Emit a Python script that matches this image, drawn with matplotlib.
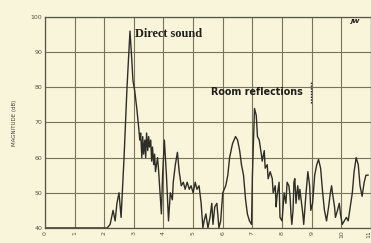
import matplotlib.pyplot as plt

# time axis (ms) and magnitude (dB)
time_ms = [0.00, 2.10, 2.20, 2.30, 2.37, 2.43, 2.50, 2.57, 2.67, 2.77, 2.87, 2.93,
           2.97, 3.03, 3.10, 3.17, 3.20, 3.23, 3.27, 3.30, 3.33, 3.37, 3.40, 3.43,
           3.47, 3.50, 3.53, 3.57, 3.60, 3.63, 3.67, 3.70, 3.73, 3.80, 3.83, 3.90,
           3.93, 3.97, 4.03, 4.10, 4.17, 4.20, 4.23, 4.30, 4.33, 4.40, 4.47, 4.53,
           4.60, 4.67, 4.73, 4.80, 4.87, 4.93, 5.00, 5.07, 5.13, 5.20, 5.27, 5.33,
           5.37, 5.43, 5.50, 5.57, 5.63, 5.67, 5.73, 5.80, 5.87, 5.93, 6.00, 6.10,
           6.17, 6.23, 6.33, 6.43, 6.50, 6.57, 6.63, 6.70, 6.77, 6.83, 6.90, 6.97,
           7.00, 7.07, 7.13, 7.17, 7.23, 7.30, 7.33, 7.40, 7.43, 7.50, 7.53, 7.60,
           7.67, 7.70, 7.77, 7.80, 7.83, 7.90, 7.93, 8.00, 8.07, 8.13, 8.17, 8.23,
           8.27, 8.30, 8.33, 8.37, 8.40, 8.43, 8.47, 8.50, 8.53, 8.57, 8.60, 8.67,
           8.70, 8.73, 8.80, 8.87, 8.93, 8.97, 9.03, 9.10, 9.17, 9.23, 9.30, 9.37,
           9.43, 9.50, 9.57, 9.63, 9.67, 9.70, 9.77, 9.80, 9.87, 9.93, 9.97, 10.03,
           10.10, 10.17, 10.23, 10.30, 10.37, 10.43, 10.50, 10.57, 10.63, 10.70,
           10.77, 10.83, 10.90]
magnitude_db = [40, 40, 41, 45, 42, 47, 50, 43, 60, 80, 96, 88,
                82, 79, 74, 68, 65, 67, 60, 66, 61, 65, 60, 67,
                62, 66, 63, 65, 59, 63, 58, 61, 56, 60, 57, 48,
                44, 55, 65, 55, 42, 46, 50, 48, 53, 58, 61.5, 56,
                52, 53, 51, 53, 51, 52, 50, 53, 51, 52, 47, 40,
                42, 44, 40, 43, 47, 41, 46, 47, 40, 42, 50, 52,
                55, 60, 64, 66, 65, 62, 58, 55, 48, 44, 42, 41,
                55, 74, 72, 66, 65, 61, 59, 62, 57, 58, 54, 56,
                54, 50, 52, 46, 49, 53, 43, 42, 50, 47, 53, 52,
                49, 44, 41, 45, 53, 54, 47, 50, 52, 48, 51, 46,
                44, 41, 49, 56, 52, 45, 47, 55, 58, 59.5, 57, 50,
                45, 42, 46, 50, 52, 50, 46, 43, 45, 47, 44, 41,
                42, 43, 42, 46, 50, 56, 60, 58, 52, 49,
                53, 55, 55]

x_ticks = list(range(0, 12))
y_ticks = [40, 50, 60, 70, 80, 90, 100]

paper = "#f9f5da"
grid_col = "#76755a"

fig = plt.figure(figsize=(3.71, 2.43), dpi=100, facecolor=paper)
ax = fig.add_axes([0.121, 0.062, 0.879, 0.868], facecolor=paper)

ax.plot(time_ms, magnitude_db, color="#2e2e28", lw=1.0)

ax.set_xlim(0, 10.87)
ax.set_ylim(40, 100)
ax.set_xticks(x_ticks)
ax.set_yticks(y_ticks)
ax.set_xticklabels([str(t) for t in x_ticks], rotation=90, fontsize=4.5, color="#555544")
ax.set_yticklabels([str(t) for t in y_ticks], fontsize=4.5, color="#555544")
ax.get_xticklabels()[-1].set_horizontalalignment("right")
ax.tick_params(length=0, pad=2)
ax.grid(True, color=grid_col, lw=0.8)
for s in ax.spines.values():
    s.set_color("#555544")
    s.set_linewidth(0.9)

ax.set_ylabel("MAGNITUDE (dB)", fontsize=4, color="#444433", labelpad=10)

ax.text(3.05, 95.3, "Direct sound", fontsize=8.8, fontweight="bold",
        family="Liberation Serif", va="center", color="#1e1e1a")
ax.text(5.6, 78.7, "Room reflections", fontsize=6.9, fontweight="bold",
        va="center", color="#1e1e1a")
ax.plot([8.98, 8.98], [75.5, 81.5], color="#1e1e1a", lw=1.0, ls=(0, (1, 1)))
ax.text(10.3, 99.3, "JW", fontsize=4.5, fontweight="bold", style="italic",
        va="top", color="#111111")

fig.savefig("out.png", dpi=100, facecolor=paper)
